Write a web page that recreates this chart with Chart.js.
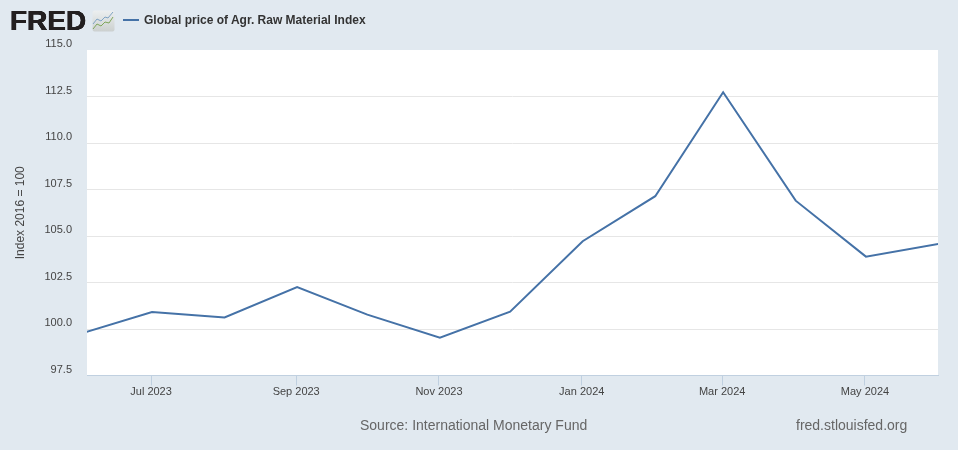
<!DOCTYPE html>
<html>
<head>
<meta charset="utf-8">
<script src="https://cdn.jsdelivr.net/npm/chart.js@4/dist/chart.umd.min.js"></script>
<style>
  html, body { margin: 0; padding: 0; background: #e1e9f0; }
  #wrap { position: relative; width: 958px; height: 450px; overflow: hidden; font-family: "Liberation Sans", Arial, sans-serif; }
  canvas { position: absolute; left: 0; top: 0; }
  .txt { position: absolute; white-space: nowrap; }
  #logo { left: 10px; top: 4px; font-size: 28px; line-height: 34px; font-weight: bold; color: #231f20; letter-spacing: 0; text-shadow: 0.3px 0 #231f20, -0.3px 0 #231f20, 0 0.4px #231f20, 0 -0.4px #231f20; }
  #icon { position: absolute; left: 92px; top: 10px; }
  #key { position: absolute; left: 123px; top: 19px; width: 16px; height: 2px; background: #4572a7; }
  #legend { left: 144px; top: 13px; font-size: 12px; line-height: 14px; font-weight: bold; color: #333; }
  #source { left: 360px; top: 416px; font-size: 14px; line-height: 18px; color: #666; }
  #site { left: 796px; top: 416px; font-size: 14px; line-height: 18px; color: #666; }
</style>
</head>
<body>
<div id="wrap">
  <canvas id="chart" width="958" height="450"></canvas>
  <div id="logo" class="txt">FRED</div>
  <svg id="icon" width="23" height="22" viewBox="0 0 23 22">
    <defs>
      <linearGradient id="iconBg" x1="0" y1="0" x2="0" y2="1">
        <stop offset="0" stop-color="#eceff0"/>
        <stop offset="1" stop-color="#ccd0cf"/>
      </linearGradient>
    </defs>
    <rect x="0.5" y="0.5" width="22" height="21" rx="2" fill="url(#iconBg)"/>
    <polyline points="1,14 5,9 9,11 13,7 16,8 21,2" fill="none" stroke="#7fa3c4" stroke-width="1"/>
    <polyline points="1,19 5,14 9,16 13,12 17,13 21,7" fill="none" stroke="#7fa65a" stroke-width="1"/>
  </svg>
  <div id="key"></div>
  <div id="legend" class="txt">Global price of Agr. Raw Material Index</div>
  <div id="source" class="txt">Source: International Monetary Fund</div>
  <div id="site" class="txt">fred.stlouisfed.org</div>
</div>
<script>
const seriesName = "Global price of Agr. Raw Material Index";
const yTitle = "Index 2016 = 100";
const dates = ["2023-06-01", "2023-07-01", "2023-08-01", "2023-09-01", "2023-10-01", "2023-11-01", "2023-12-01",
  "2024-01-01", "2024-02-01", "2024-03-01", "2024-04-01", "2024-05-01", "2024-06-01"];
const values = [99.77, 100.91, 100.62, 102.25, 100.77, 99.53, 100.93, 104.72, 107.14, 112.73, 106.9, 103.89, 104.57];
const tickDates = ["2023-07-01", "2023-09-01", "2023-11-01", "2024-01-01", "2024-03-01", "2024-05-01"];
const tickLabels = ["Jul 2023", "Sep 2023", "Nov 2023", "Jan 2024", "Mar 2024", "May 2024"];

const toTime = (d) => Date.parse(d + "T00:00:00Z");
const DAY = 86400000;

const ctx = document.getElementById("chart").getContext("2d");
new Chart(ctx, {
  type: "line",
  data: {
    datasets: [
      {
        label: seriesName,
        data: dates.map((d, i) => ({ x: toTime(d), y: values[i] })),
        borderColor: "#4572a7",
        borderWidth: 2,
        pointRadius: 0,
        tension: 0,
      },
    ],
  },
  plugins: [
    {
      // white plot background
      id: "plotBg",
      beforeDraw(chart) {
        const a = chart.chartArea;
        chart.ctx.fillStyle = "#ffffff";
        chart.ctx.fillRect(a.left, a.top, a.width, a.height);
      },
    },
  ],
  options: {
    responsive: false,
    animation: false,
    layout: { padding: { top: 50, right: 20, bottom: 0, left: 0 } },
    plugins: { legend: { display: false }, tooltip: { enabled: false } },
    scales: {
      x: {
        type: "linear",
        min: toTime("2023-07-01") - 27.77 * DAY,
        max: toTime("2024-05-01") + 30.8 * DAY,
        // ticks sit slightly left of the points in the original
        afterBuildTicks: (axis) => {
          axis.ticks = tickDates.map((d) => ({ value: toTime(d) - 0.4 * DAY }));
        },
        afterFit: (axis) => {
          axis.height = 74.5;
        },
        grid: { drawOnChartArea: false, color: "#c0d0e0", tickLength: 10, tickWidth: 1 },
        border: { color: "#c0d0e0" },
        ticks: {
          autoSkip: false,
          maxRotation: 0,
          padding: 0,
          color: "#444444",
          font: { family: "Liberation Sans", size: 11 },
          callback: (v, i) => tickLabels[i],
        },
      },
      y: {
        min: 97.5,
        max: 115,
        afterFit: (axis) => {
          axis.width = 87;
        },
        title: {
          display: true,
          text: yTitle,
          color: "#444444",
          font: { family: "Liberation Sans", size: 12 },
          padding: { top: 13, bottom: 0 },
        },
        grid: {
          color: (c) => (c.tick.value === 115 || c.tick.value === 97.5 ? "rgba(0,0,0,0)" : "#e6e6e6"),
          tickLength: 0,
        },
        border: { display: false },
        ticks: {
          stepSize: 2.5,
          padding: 15,
          labelOffset: -6,
          color: "#444444",
          font: { family: "Liberation Sans", size: 11 },
          callback: (v) => v.toFixed(1),
        },
      },
    },
  },
});
</script>
</body>
</html>
